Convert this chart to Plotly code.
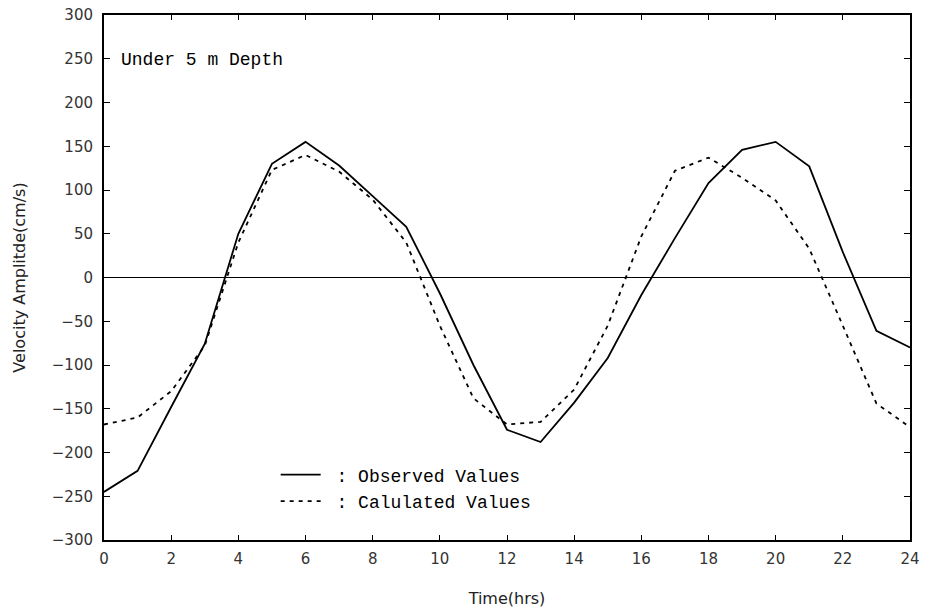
import plotly.graph_objects as go

hours = list(range(0, 25))
observed = [-245, -221, -148, -76, 50, 130, 155, 128, 93, 58, -18, -100, -174, -188,
            -143, -92, -20, 45, 108, 146, 155, 127, 29, -61, -80]
calculated = [-168, -160, -130, -78, 40, 123, 140, 121, 89, 40, -55, -138, -168, -165,
              -128, -55, 47, 122, 137, 114, 88, 33, -55, -144, -171]

x_ticks = list(range(0, 25, 2))
y_ticks = list(range(-300, 301, 50))

fig = go.Figure()
fig.add_trace(go.Scatter(x=hours, y=observed, mode="lines", name="\u00a0: Observed Values",
                         line=dict(color="black", width=1.8)))
fig.add_trace(go.Scatter(x=hours, y=calculated, mode="lines", name="\u00a0: Calulated Values",
                         line=dict(color="black", width=1.8, dash="4px,5px")))

tick_font = dict(family="DejaVu Sans, Liberation Sans, sans-serif", size=15, color="#333")
title_font = dict(family="DejaVu Sans, Liberation Sans, sans-serif", size=16, color="#222")
mono = "Liberation Mono, Courier New, monospace"

fig.update_layout(
    width=926, height=612,
    margin=dict(l=104, r=16, t=15, b=72),
    paper_bgcolor="white", plot_bgcolor="white",
    showlegend=True,
    legend=dict(x=0.213, y=0.159, xanchor="left", yanchor="top",
                bgcolor="rgba(0,0,0,0)",
                font=dict(family=mono, size=18, color="black"),
                itemwidth=40, tracegroupgap=0),
    xaxis=dict(range=[0, 24], tickvals=x_ticks, ticks="inside", ticklen=5, tickwidth=1,
               tickcolor="black", showline=True, linecolor="black", linewidth=2,
               mirror="ticks", showgrid=False, zeroline=False, tickfont=tick_font,
               automargin=False, ticklabelstandoff=4,
               title=dict(text="Time(hrs)", font=title_font, standoff=26)),
    yaxis=dict(range=[-300, 300], tickvals=y_ticks, ticks="inside", ticklen=6, tickwidth=1,
               tickcolor="black", showline=True, linecolor="black", linewidth=2,
               mirror="ticks", showgrid=False, zeroline=True, zerolinecolor="black",
               zerolinewidth=1.3, tickfont=tick_font, automargin=False,
               ticklabelstandoff=6,
               title=dict(text="Velocity Amplitde(cm/s)", font=title_font, standoff=22)),
)

fig.add_annotation(text="Under 5 m Depth", xref="paper", yref="paper", x=0.019, y=0.914,
                   xanchor="left", yanchor="middle", showarrow=False,
                   font=dict(family=mono, size=18, color="black"))

# remove the default 8px page margin so the figure fills the window exactly
fig.write_html("out.html", config={"displayModeBar": False},
               post_script="document.body.style.margin='0';")
